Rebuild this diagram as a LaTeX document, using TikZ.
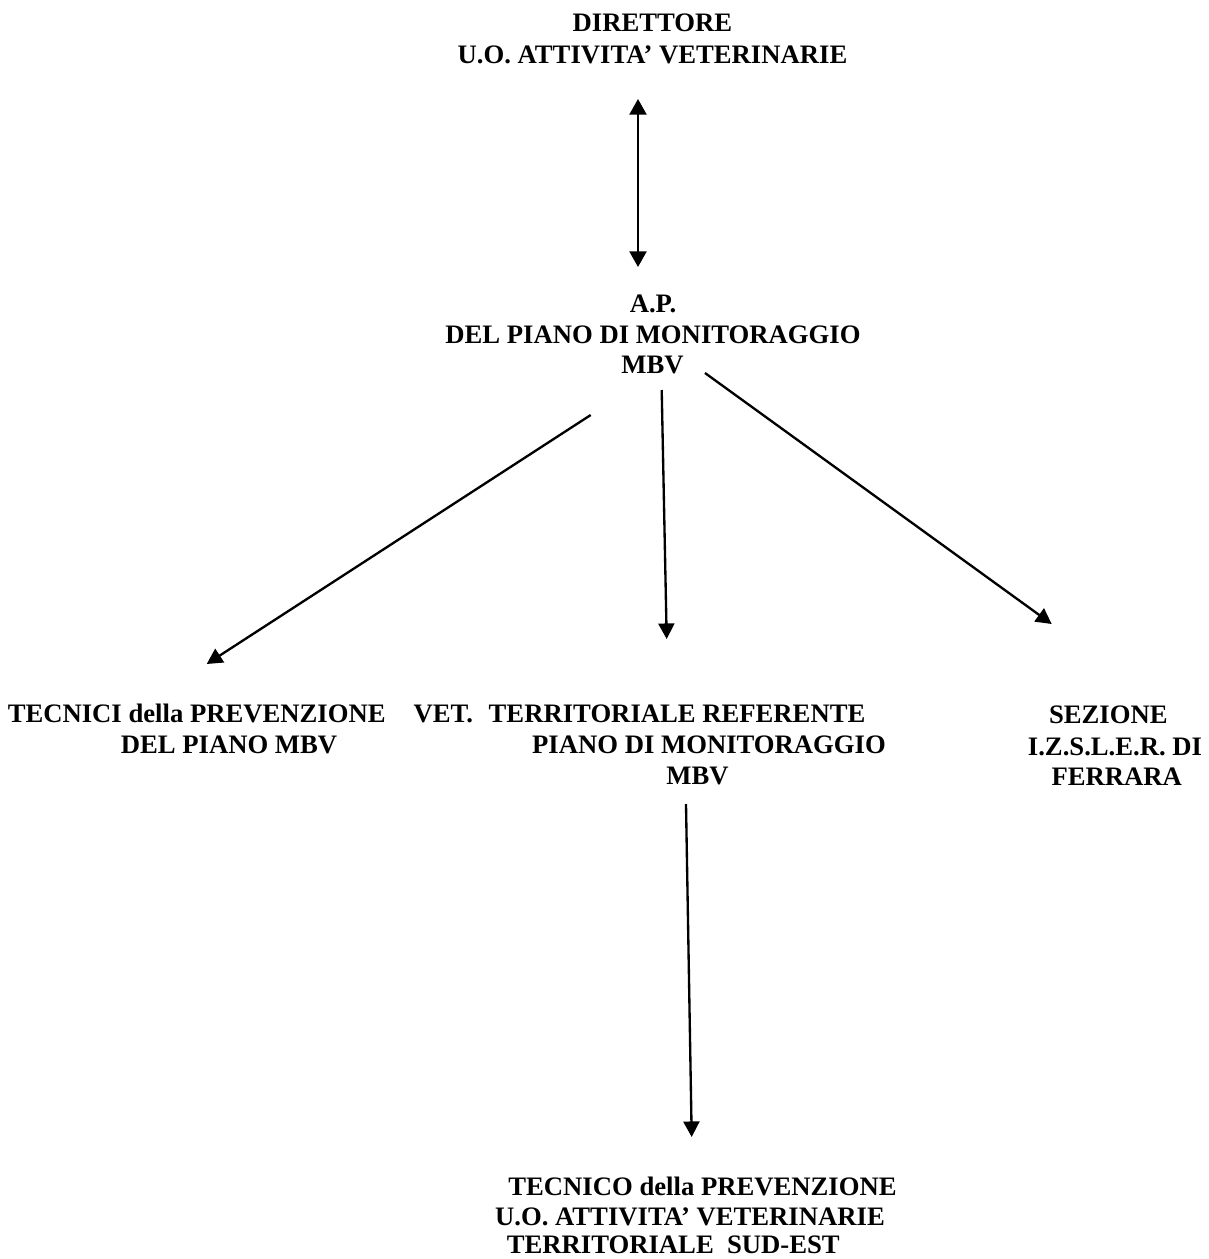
\documentclass[tikz,border=0pt]{standalone}
\usepackage{fontspec}
\setmainfont{Liberation Serif}
\usetikzlibrary{arrows.meta}
\begin{document}
\begin{tikzpicture}[x=0.45pt,y=-0.45pt,
  lbl/.style={anchor=base,inner sep=0pt,font=\fontsize{12}{14}\selectfont\bfseries},
  conn/.style={line width=1.05pt,-{Triangle[length=7pt,width=7.2pt]}},
  biconn/.style={line width=1.05pt,{Triangle[length=7pt,width=7.6pt]}-{Triangle[length=7pt,width=7.6pt]}}]
\useasboundingbox (0,0) rectangle (1208,1259);
% top block
\node[lbl] (dir1) at (652.5,32) {DIRETTORE};
\node[lbl] (dir2) at (652.5,63) {U.O. ATTIVITA’ VETERINARIE};
% A.P. block
\node[lbl] (ap1) at (653,312) {A.P.};
\node[lbl] (ap2) at (653,343) {DEL PIANO DI MONITORAGGIO};
\node[lbl] (ap3) at (652.5,373) {MBV};
% left block
\node[lbl] (tec1) at (196.7,722) {TECNICI della PREVENZIONE};
\node[lbl] (tec2) at (229,753) {DEL PIANO MBV};
% middle block
\node[lbl] (vet1) at (639.5,722) {VET.\hspace{7pt}TERRITORIALE REFERENTE};
\node[lbl] (vet2) at (709,753) {PIANO DI MONITORAGGIO};
\node[lbl] (vet3) at (697.5,784) {MBV};
% right block
\node[lbl] (sez1) at (1108.3,723) {SEZIONE};
\node[lbl] (sez2) at (1115,755) {I.Z.S.L.E.R. DI};
\node[lbl] (sez3) at (1116.7,785) {FERRARA};
% bottom block
\node[lbl] (tp1) at (702.5,1195) {TECNICO della PREVENZIONE};
\node[lbl] (tp2) at (690,1225) {U.O. ATTIVITA’ VETERINARIE};
\node[lbl] (tp3) at (673.3,1253) {TERRITORIALE\ \ SUD-EST};
% connector end points
\coordinate (dirA) at (638,99);
\coordinate (apA) at (638,267);
\coordinate (apL) at (590.7,415);
\coordinate (tecA) at (206.7,664);
\coordinate (apM) at (661.7,390);
\coordinate (vetA) at (666.7,639);
\coordinate (apR) at (705,373);
\coordinate (sezA) at (1051.7,624);
\coordinate (vetB) at (686,804);
\coordinate (tpA) at (691.7,1137);
% connectors
\draw[biconn] (dirA) -- (apA);
\draw[conn] (apL) -- (tecA);
\draw[conn] (apM) -- (vetA);
\draw[conn] (apR) -- (sezA);
\draw[conn] (vetB) -- (tpA);
\end{tikzpicture}
\end{document}
